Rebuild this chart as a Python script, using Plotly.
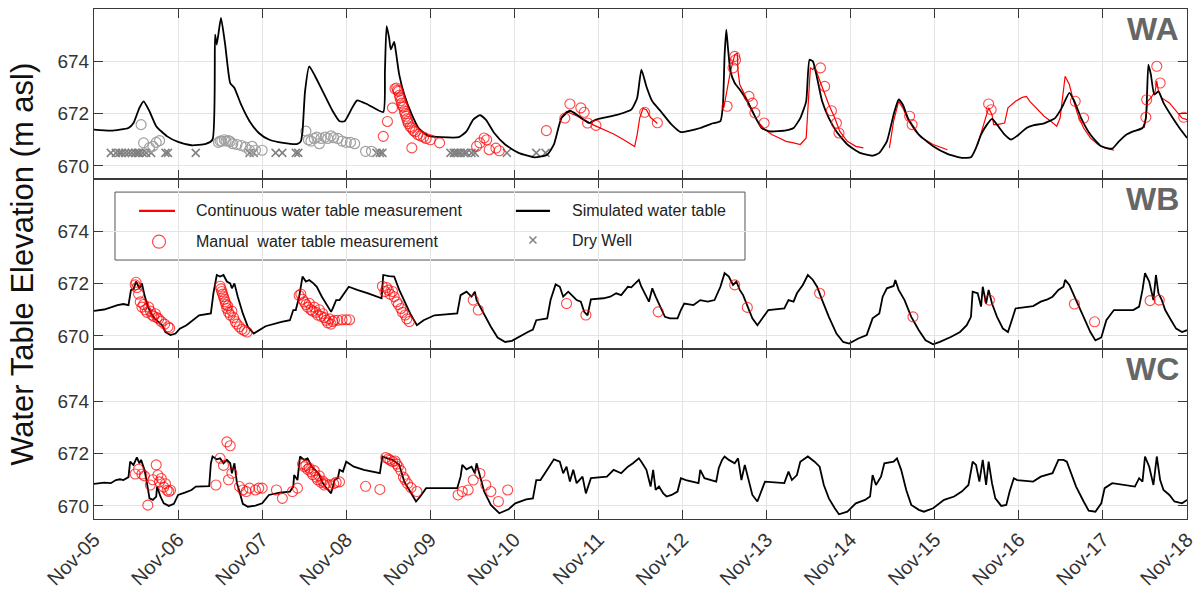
import numpy as np
import pandas as pd
import plotly.graph_objects as go

# ---------------- data (t = years since Nov-2005, v = m asl) ----------------
WA_sim_t = [0, 0.20, 0.41, 0.47, 0.54, 0.59, 0.66, 0.74, 0.87, 1.00, 1.16, 1.33, 1.41, 1.44, 1.46, 1.51, 1.56,
            1.62, 1.67, 1.75, 1.85, 1.96, 2.08, 2.25, 2.42, 2.46, 2.48, 2.51, 2.56, 2.63, 2.71, 2.84, 2.92, 2.98,
            3.07, 3.13, 3.26, 3.44, 3.46, 3.48, 3.51, 3.53, 3.57, 3.59, 3.63, 3.69, 3.78, 3.86, 3.97, 4.13, 4.34,
            4.43, 4.51, 4.59, 4.66, 4.76, 4.89, 5.05, 5.24, 5.39, 5.47, 5.56, 5.66, 5.77, 5.89, 5.97, 6.23, 6.39,
            6.46, 6.51, 6.57, 6.64, 6.74, 6.87, 6.98, 7.09, 7.21, 7.34, 7.45, 7.48, 7.50, 7.52, 7.54, 7.57, 7.62,
            7.68, 7.77, 7.85, 7.94, 8.04, 8.23, 8.32, 8.40, 8.47, 8.51, 8.55, 8.60, 8.66, 8.74, 8.83, 8.96, 9.11,
            9.26, 9.34, 9.43, 9.51, 9.57, 9.62, 9.68, 9.81, 9.98, 10.15, 10.32, 10.43, 10.49, 10.55, 10.62, 10.68,
            10.74, 10.83, 10.91, 11.00, 11.09, 11.17, 11.30, 11.43, 11.51, 11.60, 11.66, 11.74, 11.85, 11.98,
            12.11, 12.19, 12.28, 12.36, 12.47, 12.51, 12.54, 12.57, 12.61, 12.66, 12.72, 12.83, 12.91, 13.0]
WA_sim_v = [671.39, 671.35, 671.45, 671.64, 672.22, 672.47, 672.09, 671.52, 671.13, 670.92, 670.79, 670.84, 671.01,
            675.02, 674.64, 675.66, 674.64, 673.17, 672.98, 672.34, 671.71, 671.26, 671.01, 670.88, 670.84, 670.94,
            671.32, 672.85, 673.81, 673.43, 672.92, 672.09, 671.71, 671.71, 672.22, 672.51, 672.34, 672.06, 673.62,
            675.34, 674.89, 674.45, 674.74, 674.38, 673.49, 672.73, 671.96, 671.45, 671.16, 671.10, 671.10, 671.32,
            671.77, 671.94, 671.77, 671.26, 670.82, 670.50, 670.33, 670.43, 670.82, 671.83, 672.11, 671.90, 671.64,
            671.77, 671.96, 672.15, 672.60, 673.68, 673.04, 672.47, 672.09, 671.58, 671.29, 671.35, 671.45, 671.61,
            671.71, 672.34, 674.25, 675.21, 674.51, 673.62, 673.17, 672.92, 672.47, 671.96, 671.45, 671.32, 671.36,
            671.45, 671.83, 672.47, 674.06, 674.00, 673.36, 672.47, 671.83, 671.32, 670.82, 670.50, 670.39, 670.50,
            670.94, 671.96, 672.54, 672.34, 671.83, 671.20, 670.75, 670.46, 670.31, 670.33, 670.69, 671.20, 671.58,
            671.80, 671.58, 671.20, 671.01, 671.20, 671.45, 671.55, 671.63, 671.83, 672.22, 672.79, 672.47, 671.83,
            671.20, 670.75, 670.66, 670.94, 671.20, 671.32, 671.45, 671.83, 673.87, 673.49, 672.73, 672.85, 672.41,
            671.83, 671.45, 671.07]

# continuous logger record (None = gap between records)
WA_cont_t = [5.54, 5.58, 5.62, 5.68, 5.75, 5.80, 5.86, 5.95, 6.05, 6.18, 6.30, 6.38, 6.43, 6.46, 6.49, 6.53, 6.57,
             6.62, 6.66, 6.70, None,
             7.49, 7.53, 7.57, 7.62, 7.65, 7.66, 7.68, 7.72, 7.81, 7.89, 7.98, 8.06, 8.15, 8.23, 8.32, 8.40, 8.47,
             8.49, 8.52, 8.55, 8.57, 8.62, 8.68, 8.74, 8.81, 8.87, 8.96, 9.06, 9.15, None,
             9.46, 9.51, 9.57, 9.62, 9.68, 9.77, 9.85, 9.98, 10.15, None,
             10.51, 10.60, 10.64, 10.68, 10.70, 10.74, 10.83, 10.87, 10.96, 11.04, 11.09, 11.13, 11.21, 11.30,
             11.38, 11.45, 11.49, 11.53, 11.55, 11.60, 11.64, 11.70, 11.77, 11.85, 11.94, 12.02, 12.13, None,
             12.49, 12.51, 12.53, 12.57, 12.62, 12.64, 12.66, 12.70, 12.79, 12.87, 12.94, 13.0]
WA_cont_v = [671.75, 671.95, 672.08, 672.0, 671.9, 671.8, 671.72, 671.55, 671.4, 671.22, 671.0, 670.85, 670.74,
             671.2, 671.83, 672.2, 672.15, 671.85, 671.75, 671.62, None,
             672.22, 672.98, 673.62, 674.25, 674.32, 673.62, 673.11, 672.85, 672.22, 671.71, 671.39, 671.20, 671.07,
             670.94, 670.88, 670.82, 671.07, 672.34, 673.75, 673.68, 673.81, 673.36, 672.85, 672.34, 671.83, 671.32,
             670.94, 670.75, 670.69, None,
             670.69, 671.71, 672.47, 672.22, 671.77, 671.32, 671.07, 670.82, 670.62, None,
             670.82, 671.77, 672.22, 671.96, 671.58, 671.58, 671.64, 672.22, 672.47, 672.62, 672.66, 672.47, 672.22,
             671.90, 671.71, 671.52, 671.83, 672.85, 673.43, 673.11, 672.60, 671.96, 671.45, 671.07, 670.82, 670.69,
             670.60, None,
             671.45, 671.83, 672.47, 672.60, 672.85, 673.24, 672.85, 672.60, 672.41, 672.09, 671.83, 671.77]

WA_man_t = [3.44, 3.49, 3.55, 3.58, 3.60, 3.61, 3.62, 3.63, 3.64, 3.65, 3.66, 3.67, 3.68, 3.69, 3.70, 3.71, 3.72,
            3.73, 3.74, 3.76, 3.78, 3.78, 3.80, 3.82, 3.85, 3.88, 3.92, 3.95, 4.00, 4.11,
            4.55, 4.59, 4.64, 4.67, 4.70, 4.78, 4.82, 5.38, 5.60, 5.66, 5.79, 5.83, 5.87, 5.97, 6.55, 6.70,
            7.53, 7.60, 7.62, 7.63, 7.79, 7.83, 7.86, 7.97, 8.64, 8.69, 8.77, 8.83, 8.86, 9.70, 9.73,
            10.64, 10.67, 11.67, 11.77, 12.51, 12.52, 12.64, 12.68, 12.96]
WA_man_v = [671.13, 671.70, 672.22, 672.95, 672.98, 672.90, 672.85, 672.70, 672.60, 672.50, 672.40, 672.30, 672.25,
            672.10, 672.00, 671.90, 671.80, 671.70, 671.62, 671.50, 670.69, 671.45, 671.35, 671.30, 671.20, 671.15,
            671.10, 671.05, 671.00, 670.88,
            670.75, 670.88, 671.07, 671.00, 670.62, 670.68, 670.58, 671.35, 671.83, 672.37, 672.22, 672.05, 671.64,
            671.55, 672.05, 671.65,
            672.28, 673.75, 674.19, 674.05, 672.66, 672.40, 672.03, 671.64, 673.75, 673.04, 672.11, 671.64, 671.26,
            671.90, 671.58, 672.37, 672.15, 672.47, 671.83, 671.86, 672.53, 673.81, 673.17, 671.86]

WA_grey_t = [0.56, 0.59, 0.66, 0.70, 0.74, 0.78, 1.48, 1.50, 1.52, 1.55, 1.57, 1.60, 1.62, 1.65, 1.70, 1.75, 1.80,
             1.85, 1.88, 1.92, 2.00, 2.52, 2.55, 2.58, 2.62, 2.65, 2.68, 2.70, 2.75, 2.78, 2.82, 2.85, 2.90, 2.95,
             3.00, 3.05, 3.10, 3.23, 3.30]
WA_grey_v = [671.58, 670.88, 670.70, 670.75, 670.90, 670.97, 670.90, 670.95, 670.95, 671.00, 670.95, 670.97, 670.93,
             670.85, 670.82, 670.78, 670.72, 670.60, 670.75, 670.60, 670.60, 671.33, 671.00, 670.95, 671.05, 671.10,
             670.85, 671.05, 671.10, 671.05, 671.15, 671.08, 671.05, 670.95, 670.90, 670.90, 670.85, 670.56, 670.56]

WA_dry_t = [0.20, 0.26, 0.30, 0.33, 0.37, 0.41, 0.45, 0.49, 0.52, 0.54, 0.58, 0.62, 0.68, 0.85, 0.88, 1.21, 1.85,
            1.90, 2.16, 2.24, 2.40, 2.43, 3.36, 3.40, 3.43, 4.24, 4.28, 4.30, 4.33, 4.36, 4.40, 4.43, 4.49, 4.53,
            4.91, 5.26, 5.37]
WA_dry_v = [670.5] * len(WA_dry_t)

WB_sim_t = [0, 0.12, 0.20, 0.28, 0.35, 0.41, 0.44, 0.47, 0.50, 0.54, 0.57, 0.60, 0.64, 0.68, 0.72, 0.77, 0.81, 0.85,
            0.91, 0.97, 1.02, 1.10, 1.18, 1.25, 1.39, 1.42, 1.46, 1.50, 1.54, 1.58, 1.62, 1.64, 1.67, 1.71, 1.77,
            1.83, 1.90, 1.96, 2.04, 2.23, 2.33, 2.37, 2.40, 2.44, 2.48, 2.52, 2.56, 2.61, 2.65, 2.71, 2.77, 2.82,
            2.84, 2.88, 2.92, 2.96, 3.03, 3.13, 3.26, 3.42, 3.44, 3.51, 3.57, 3.63, 3.69, 3.76, 3.84, 3.92, 4.05,
            4.32, 4.36, 4.43, 4.49, 4.53, 4.55, 4.59, 4.66, 4.72, 4.80, 4.89, 4.97, 5.05, 5.16, 5.22, 5.26, 5.39,
            5.43, 5.49, 5.54, 5.58, 5.64, 5.70, 5.74, 5.79, 5.83, 5.87, 5.91, 6.06, 6.14, 6.21, 6.27, 6.35, 6.39,
            6.48, 6.51, 6.60, 6.64, 6.68, 6.72, 6.79, 6.85, 6.94, 6.98, 7.02, 7.13, 7.21, 7.30, 7.38, 7.45, 7.50,
            7.55, 7.60, 7.64, 7.68, 7.72, 7.77, 7.83, 7.89, 7.96, 8.02, 8.21, 8.26, 8.32, 8.36, 8.43, 8.49, 8.55,
            8.60, 8.66, 8.74, 8.83, 8.91, 8.98, 9.09, 9.19, 9.26, 9.34, 9.38, 9.43, 9.51, 9.53, 9.57, 9.64, 9.72,
            9.81, 9.89, 9.98, 10.06, 10.19, 10.30, 10.38, 10.43, 10.45, 10.51, 10.55, 10.57, 10.61, 10.64, 10.68,
            10.74, 10.81, 10.87, 10.91, 10.96, 11.17, 11.26, 11.34, 11.40, 11.47, 11.53, 11.55, 11.60, 11.68,
            11.77, 11.85, 11.91, 11.98, 12.04, 12.13, 12.36, 12.43, 12.47, 12.50, 12.55, 12.60, 12.63, 12.66,
            12.70, 12.74, 12.81, 12.87, 12.94, 13.0]
WB_sim_v = [670.96, 671.01, 671.09, 671.18, 671.22, 671.18, 671.76, 671.78, 672.08, 671.82, 672.01, 671.56, 671.12,
            670.86, 670.67, 670.54, 670.41, 670.15, 670.03, 670.09, 670.28, 670.41, 670.60, 670.79, 670.86, 671.63,
            672.33, 672.27, 672.33, 672.08, 672.01, 671.82, 672.01, 671.50, 670.86, 670.35, 670.09, 670.22, 670.37,
            670.54, 670.60, 670.99, 670.99, 671.50, 672.27, 672.08, 672.14, 672.01, 671.88, 671.50, 671.18, 670.92,
            671.05, 671.37, 671.37, 671.56, 671.88, 671.76, 671.63, 671.44, 672.33, 672.29, 672.27, 671.76, 671.37,
            670.86, 670.41, 670.60, 670.79, 670.86, 671.56, 671.69, 671.50, 671.69, 671.37, 671.12, 670.73, 670.35,
            669.94, 669.77, 669.81, 669.96, 670.15, 670.24, 670.60, 670.67, 671.37, 671.97, 671.88, 671.50, 671.69,
            671.50, 671.37, 671.31, 670.92, 670.79, 671.40, 671.44, 671.50, 671.63, 671.56, 671.88, 671.86, 672.14,
            671.88, 671.31, 671.82, 671.50, 671.24, 670.73, 670.67, 670.67, 670.99, 671.24, 671.18, 671.37, 671.31,
            671.37, 671.88, 672.40, 672.27, 671.95, 672.08, 671.76, 671.56, 671.12, 670.67, 670.41, 670.73, 670.99,
            671.05, 671.37, 671.31, 671.63, 671.95, 672.33, 672.14, 671.88, 671.37, 670.73, 670.09, 669.77, 669.71,
            669.90, 670.03, 670.67, 670.86, 671.50, 671.82, 671.91, 672.14, 671.76, 671.37, 670.73, 670.22, 669.83,
            669.68, 669.77, 669.96, 670.15, 670.41, 670.73, 671.69, 671.63, 671.12, 671.88, 671.24, 671.76, 671.24,
            670.73, 670.28, 670.15, 670.54, 671.05, 671.14, 671.31, 671.40, 671.50, 671.76, 671.88, 672.14, 671.95,
            671.37, 670.73, 670.15, 669.83, 669.94, 670.60, 670.99, 670.99, 671.12, 671.76, 672.40, 672.08, 671.37,
            672.33, 671.63, 671.37, 670.99, 670.60, 670.28, 670.15, 670.22]

WB_man_t = [0.49, 0.50, 0.51, 0.53, 0.55, 0.57, 0.59, 0.61, 0.63, 0.65, 0.67, 0.69, 0.71, 0.73, 0.75, 0.77, 0.80,
            0.84, 0.88, 0.90,
            1.50, 1.51, 1.52, 1.53, 1.54, 1.55, 1.56, 1.57, 1.58, 1.59, 1.60, 1.62, 1.64, 1.66, 1.68, 1.70, 1.73,
            1.76, 1.79, 1.82,
            2.44, 2.46, 2.48, 2.50, 2.52, 2.54, 2.56, 2.58, 2.60, 2.62, 2.64, 2.66, 2.68, 2.70, 2.72, 2.74, 2.76,
            2.78, 2.80, 2.82, 2.84, 2.86, 2.90, 2.95, 3.00, 3.04,
            3.43, 3.46, 3.48, 3.50, 3.52, 3.55, 3.57, 3.60, 3.62, 3.65, 3.67, 3.70, 3.72, 3.75,
            4.51, 4.57, 5.62, 5.85, 6.71, 7.62, 7.77, 8.63, 9.74, 10.65, 11.66, 11.90, 12.56, 12.67]
WB_man_v = [671.95, 672.05, 671.85, 671.60, 671.30, 671.10, 671.20, 671.00, 670.90, 671.10, 670.95, 670.80, 670.75,
            670.85, 670.70, 670.65, 670.55, 670.45, 670.35, 670.30,
            671.90, 671.80, 671.70, 671.60, 671.50, 671.40, 671.30, 671.20, 671.05, 671.15, 670.90, 670.80, 670.95,
            670.70, 670.55, 670.45, 670.35, 670.25, 670.20, 670.15,
            671.55, 671.60, 671.40, 671.30, 671.20, 671.10, 671.25, 671.00, 670.95, 671.10, 670.90, 670.80, 671.00,
            670.75, 670.85, 670.70, 670.60, 670.50, 670.65, 670.45, 670.55, 670.60, 670.60, 670.62, 670.62, 670.62,
            671.90, 671.70, 671.85, 671.75, 671.60, 671.70, 671.50, 671.30, 671.20, 671.05, 670.90, 670.80, 670.65,
            670.55,
            671.37, 670.99, 671.24, 670.80, 670.92, 671.95, 671.09, 671.63, 670.73, 671.37, 671.22, 670.54, 671.35,
            671.37]

WC_sim_t = [0, 0.12, 0.20, 0.26, 0.31, 0.35, 0.41, 0.43, 0.47, 0.51, 0.54, 0.56, 0.58, 0.60, 0.62, 0.64, 0.66, 0.70,
            0.74, 0.75, 0.79, 0.83, 0.89, 0.95, 1.00, 1.08, 1.16, 1.21, 1.37, 1.39, 1.41, 1.46, 1.50, 1.54, 1.58,
            1.62, 1.64, 1.67, 1.70, 1.73, 1.77, 1.83, 1.92, 2.00, 2.08, 2.21, 2.33, 2.37, 2.38, 2.42, 2.45, 2.50,
            2.54, 2.59, 2.63, 2.67, 2.71, 2.75, 2.82, 2.86, 2.90, 2.92, 2.96, 3.00, 3.09, 3.21, 3.40, 3.43, 3.49,
            3.55, 3.63, 3.65, 3.69, 3.76, 3.83, 3.88, 3.95, 4.32, 4.36, 4.38, 4.43, 4.49, 4.53, 4.55, 4.59, 4.64,
            4.72, 4.82, 4.93, 5.01, 5.14, 5.22, 5.26, 5.31, 5.39, 5.47, 5.54, 5.58, 5.62, 5.66, 5.70, 5.74, 5.81,
            5.85, 5.91, 6.10, 6.18, 6.27, 6.35, 6.41, 6.48, 6.51, 6.57, 6.62, 6.65, 6.68, 6.72, 6.77, 6.81, 6.87,
            6.94, 6.98, 7.04, 7.19, 7.21, 7.26, 7.40, 7.43, 7.47, 7.50, 7.55, 7.62, 7.66, 7.70, 7.74, 7.79, 7.83,
            7.89, 7.94, 7.98, 8.21, 8.26, 8.30, 8.36, 8.40, 8.49, 8.57, 8.63, 8.68, 8.74, 8.81, 8.86, 8.96, 9.06,
            9.17, 9.23, 9.26, 9.30, 9.36, 9.40, 9.51, 9.55, 9.60, 9.66, 9.72, 9.81, 9.87, 9.98, 10.11, 10.23,
            10.32, 10.40, 10.45, 10.49, 10.53, 10.57, 10.61, 10.64, 10.68, 10.72, 10.79, 10.85, 10.89, 10.94,
            10.98, 11.17, 11.26, 11.34, 11.40, 11.47, 11.53, 11.57, 11.62, 11.68, 11.77, 11.83, 11.91, 11.98,
            12.02, 12.11, 12.38, 12.43, 12.47, 12.50, 12.55, 12.60, 12.64, 12.68, 12.72, 12.79, 12.85, 12.94, 13.0]
WC_sim_v = [670.84, 670.89, 670.87, 670.99, 671.02, 670.99, 671.10, 671.69, 671.57, 671.86, 671.63, 671.76, 671.57,
            671.38, 671.06, 670.74, 670.29, 670.23, 670.36, 670.74, 670.36, 670.10, 670.00, 670.08, 670.42, 670.51,
            670.61, 670.74, 670.76, 671.63, 671.89, 671.78, 671.82, 671.63, 671.76, 671.63, 671.25, 671.63, 670.87,
            670.55, 670.08, 669.97, 670.01, 670.10, 670.42, 670.51, 670.55, 670.74, 671.18, 670.99, 671.89, 671.76,
            671.82, 671.50, 671.38, 671.25, 670.93, 670.74, 670.48, 670.99, 671.06, 671.38, 671.31, 671.69, 671.50,
            671.38, 671.25, 671.89, 671.82, 671.76, 671.57, 671.38, 670.93, 670.55, 670.17, 670.36, 670.68, 670.68,
            671.12, 671.57, 671.40, 671.50, 671.25, 671.63, 671.12, 670.55, 670.04, 669.72, 669.87, 670.10, 670.25,
            670.29, 670.99, 670.99, 671.38, 671.78, 671.69, 671.25, 671.50, 670.93, 671.38, 670.87, 671.12, 670.48,
            671.06, 671.12, 671.38, 671.25, 671.50, 671.63, 671.82, 671.69, 671.38, 670.74, 671.38, 670.61, 670.74,
            670.48, 670.36, 670.42, 670.55, 671.06, 670.99, 670.87, 671.38, 671.06, 670.93, 671.44, 671.76, 671.89,
            671.76, 671.63, 671.82, 670.99, 671.57, 670.87, 670.42, 670.17, 670.61, 670.93, 670.87, 671.31, 670.99,
            671.18, 671.69, 671.89, 671.69, 671.50, 670.80, 670.29, 669.91, 669.68, 669.78, 670.10, 670.23, 670.36,
            671.18, 670.80, 671.12, 671.63, 671.69, 671.82, 671.38, 670.61, 670.04, 669.85, 669.78, 669.91, 670.23,
            670.36, 670.55, 670.80, 671.69, 671.57, 670.93, 671.76, 670.80, 671.69, 670.87, 670.29, 670.00, 670.04,
            670.55, 671.06, 670.99, 670.93, 671.12, 671.18, 671.25, 671.76, 671.76, 671.69, 671.25, 670.74, 670.17,
            669.82, 669.78, 670.10, 670.68, 670.87, 670.74, 671.06, 670.93, 671.89, 671.50, 670.80, 671.89, 670.99,
            670.61, 670.42, 670.17, 670.10, 670.23]

WC_man_t = [0.49, 0.53, 0.57, 0.60, 0.64, 0.67, 0.70, 0.74, 0.76, 0.78, 0.80, 0.83, 0.85, 0.87, 0.89, 0.91,
            1.45, 1.50, 1.54, 1.58, 1.62, 1.60, 1.64, 1.73, 1.77, 1.81, 1.85, 1.92, 1.96, 2.00, 2.17, 2.24, 2.36,
            2.42,
            2.48, 2.50, 2.52, 2.54, 2.56, 2.58, 2.60, 2.62, 2.64, 2.66, 2.68, 2.70, 2.72, 2.74, 2.76, 2.80, 2.85,
            2.88, 2.92, 3.23, 3.40,
            3.47, 3.50, 3.52, 3.55, 3.58, 3.60, 3.62, 3.65, 3.68, 3.70, 3.73, 3.77, 3.84,
            4.33, 4.38, 4.45, 4.51, 4.59, 4.66, 4.72, 4.81, 4.92]
WC_man_v = [671.22, 671.40, 671.22, 671.15, 670.03, 670.80, 671.00, 671.57, 671.18, 670.92, 671.05, 670.72, 670.85,
            670.60, 670.55, 670.60,
            670.80, 671.82, 671.55, 672.45, 672.30, 671.00, 671.25, 670.74, 670.61, 670.55, 670.68, 670.61, 670.68,
            670.68, 670.61, 670.29, 670.55, 670.68,
            671.60, 671.50, 671.55, 671.40, 671.45, 671.30, 671.20, 671.35, 671.10, 671.00, 671.15, 670.90, 670.95,
            670.80, 670.85, 670.80, 670.85, 670.90, 670.92, 670.75, 670.63,
            671.85, 671.80, 671.75, 671.70, 671.72, 671.60, 671.50, 671.35, 671.10, 671.00, 670.85, 670.70, 670.55,
            670.42, 670.55, 670.61, 670.99, 671.24, 670.80, 670.55, 670.17, 670.61]

YEARS = list(range(2005, 2019))
TICK_TEXT = ["Nov-%02d" % (y % 100) for y in YEARS]
PANELS = ["WA", "WB", "WC"]
LEGEND_LABELS = ["Continuous water table measurement", "Simulated water table",
                 "Manual  water table measurement", "Dry Well"]

# ---------------- helpers ----------------
BASE = pd.Timestamp("2005-11-01")


def to_dates(ts):
    out = []
    for t in ts:
        out.append(None if t is None else BASE + pd.Timedelta(days=t * 365.25))
    return out


RED = "#ff0000"
RED_MK = "rgba(255,0,0,0.72)"
GREY_MK = "#a0a0a0"
DRY = "#808080"
AX = "#3a3a3a"
FONT = "Liberation Sans, Arial, sans-serif"

fig = go.Figure()

# panel mapping: WA -> y3 (top), WB -> y2, WC -> y (bottom)
ax_of = {"WA": ("x3", "y3"), "WB": ("x2", "y2"), "WC": ("x", "y")}


def add_line(panel, t, v, color, width, shape="linear"):
    xa, ya = ax_of[panel]
    line = dict(color=color, width=width, shape=shape)
    if shape == "spline":
        line["smoothing"] = 0.5
    fig.add_trace(go.Scatter(x=to_dates(t), y=v, mode="lines", xaxis=xa, yaxis=ya,
                             line=line, connectgaps=False, showlegend=False, hoverinfo="skip"))


def add_markers(panel, t, v, color, symbol, size, lw):
    xa, ya = ax_of[panel]
    fig.add_trace(go.Scatter(x=to_dates(t), y=v, mode="markers", xaxis=xa, yaxis=ya,
                             marker=dict(symbol=symbol, size=size, color=color,
                                         line=dict(color=color, width=lw)),
                             showlegend=False, hoverinfo="skip"))


# WA
add_markers("WA", WA_dry_t, WA_dry_v, DRY, "x-thin-open", 8, 1.5)
add_markers("WA", WA_grey_t, WA_grey_v, GREY_MK, "circle-open", 10, 1.2)
add_line("WA", WA_cont_t, WA_cont_v, RED, 1.2)
add_line("WA", WA_sim_t, WA_sim_v, "#000000", 1.8, "spline")
add_markers("WA", WA_man_t, WA_man_v, RED_MK, "circle-open", 10, 1.1)
# WB
add_line("WB", WB_sim_t, WB_sim_v, "#000000", 1.8)
add_markers("WB", WB_man_t, WB_man_v, RED_MK, "circle-open", 10, 1.1)
# WC
add_line("WC", WC_sim_t, WC_sim_v, "#000000", 1.8)
add_markers("WC", WC_man_t, WC_man_v, RED_MK, "circle-open", 10, 1.1)

# legend symbols on a hidden full-plot axis (paper-like coordinates)
fig.add_trace(go.Scatter(x=[0.0595], y=[0.5437], mode="markers", xaxis="x4", yaxis="y4",
                         marker=dict(symbol="circle-open", size=13, color=RED_MK, line=dict(width=1.2)),
                         showlegend=False, hoverinfo="skip"))
fig.add_trace(go.Scatter(x=[0.4016], y=[0.547], mode="markers", xaxis="x4", yaxis="y4",
                         marker=dict(symbol="x-thin-open", size=7, color=DRY, line=dict(color=DRY, width=1.5)),
                         showlegend=False, hoverinfo="skip"))

x_range = [BASE, pd.Timestamp("2018-11-01")]
tickvals = [pd.Timestamp("%d-11-01" % y) for y in YEARS]

xcommon = dict(range=x_range, tickvals=tickvals, ticktext=TICK_TEXT, showgrid=True, gridcolor="#e4e4e4",
               gridwidth=1, showline=True, linecolor=AX, linewidth=1.2, mirror="ticks", ticks="inside",
               ticklen=9, tickcolor=AX, tickwidth=1.2, zeroline=False, automargin=False)
ycommon = dict(range=[669.5, 676], tickvals=[670, 672, 674], showgrid=True, gridcolor="#e4e4e4", gridwidth=1,
               showline=True, linecolor=AX, linewidth=1.2, mirror="ticks", ticks="inside", ticklen=9,
               tickcolor=AX, tickwidth=1.2, zeroline=False, automargin=False,
               tickfont=dict(family=FONT, size=19, color="#333333"))

fig.update_layout(
    width=1203, height=595,
    margin=dict(l=94, r=16, t=9, b=76),
    paper_bgcolor="white", plot_bgcolor="rgba(0,0,0,0)",
    showlegend=False,
    xaxis=dict(**xcommon, anchor="y", showticklabels=True, tickangle=-45,
               tickfont=dict(family=FONT, size=20, color="#333333")),
    xaxis2=dict(**xcommon, anchor="y2", matches="x", showticklabels=False),
    xaxis3=dict(**xcommon, anchor="y3", matches="x", showticklabels=False),
    yaxis=dict(**ycommon, domain=[0, 1 / 3], anchor="x"),
    yaxis2=dict(**ycommon, domain=[1 / 3, 2 / 3], anchor="x2"),
    yaxis3=dict(**ycommon, domain=[2 / 3, 1], anchor="x3"),
    xaxis4=dict(domain=[0, 1], range=[0, 1], visible=False, anchor="y4", fixedrange=True, showgrid=False,
                automargin=False),
    yaxis4=dict(domain=[0, 1], range=[0, 1], visible=False, anchor="x4", fixedrange=True, showgrid=False,
                automargin=False),
)

# legend box and line samples
fig.add_shape(type="rect", xref="paper", yref="paper", x0=0.0192, x1=0.5956, y0=0.5078, y1=0.641,
              line=dict(color="#555555", width=1), fillcolor="white", layer="below")
fig.add_shape(type="line", xref="paper", yref="paper", x0=0.0412, x1=0.0741, y0=0.604, y1=0.604,
              line=dict(color=RED, width=2.2))
fig.add_shape(type="line", xref="paper", yref="paper", x0=0.386, x1=0.4172, y0=0.604, y1=0.604,
              line=dict(color="#000000", width=2.2))
leg_pos = [(0.0911, 0.604), (0.4355, 0.604), (0.0911, 0.5437), (0.4355, 0.547)]
for (lx, ly), txt in zip(leg_pos, LEGEND_LABELS):
    fig.add_annotation(x=lx, y=ly, xref="paper", yref="paper", text=txt, showarrow=False,
                       xanchor="left", yanchor="middle", font=dict(family=FONT, size=16, color="#222222"))

# panel labels
panel_tops = {"WA": 1.0, "WB": 2 / 3, "WC": 1 / 3}
for p in PANELS:
    fig.add_annotation(x=1, y=panel_tops[p], xref="paper", yref="paper", text="<b>%s</b>" % p,
                       showarrow=False, xanchor="right", yanchor="top", xshift=-6, yshift=0,
                       font=dict(family=FONT, size=32, color="#666666"))

# y-axis title
fig.add_annotation(x=-0.066, y=0.5, xref="paper", yref="paper", text="Water Table Elevation (m asl)",
                   showarrow=False, textangle=-90, xanchor="center", yanchor="middle",
                   font=dict(family=FONT, size=31, color="#111111"))

fig.write_html("out.html")
